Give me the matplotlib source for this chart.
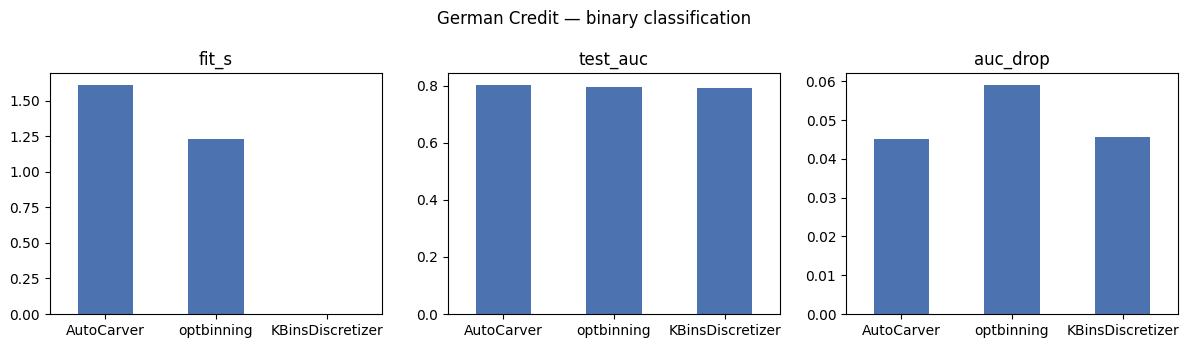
import matplotlib
matplotlib.use("Agg")
import matplotlib.pyplot as plt
import numpy as np

methods = ["AutoCarver", "optbinning", "KBinsDiscretizer"]
fit_s = [1.615, 1.235, 0.003]
test_auc = [0.805, 0.795, 0.793]
auc_drop = [0.0452, 0.0592, 0.0457]

metrics = [("fit_s", fit_s), ("test_auc", test_auc), ("auc_drop", auc_drop)]

fig, axes = plt.subplots(1, 3, figsize=(11.88, 3.48), dpi=100)
fig.suptitle("German Credit — binary classification", y=0.97)

x = np.arange(len(methods))
for ax, (name, vals) in zip(axes, metrics):
    ax.bar(x, vals, width=0.5, color="#4C72B0")
    ax.set_title(name)
    ax.set_xticks(x)
    ax.set_xticklabels(methods)
    ax.set_xlim(-0.5, len(methods) - 0.5)

# layout matched to the reference
fig.subplots_adjust(left=0.042, right=0.9916, top=0.790, bottom=0.0977, wspace=0.199)
plt.savefig("out.png")
plt.close()
